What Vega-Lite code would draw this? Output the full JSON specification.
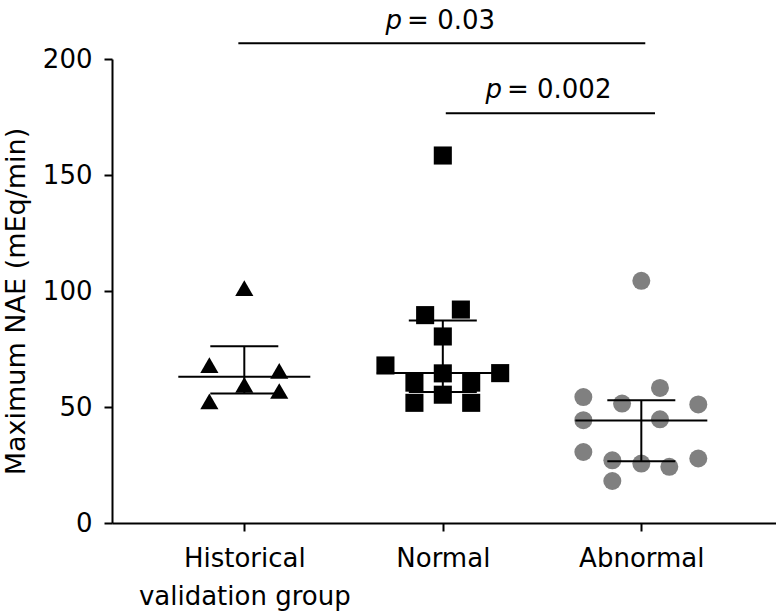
{
  "$schema": "https://vega.github.io/schema/vega-lite/v6.json",
  "autosize": "none",
  "width": 664,
  "height": 464,
  "padding": {"left": 112, "top": 59, "right": 0, "bottom": 88},
  "background": "white",
  "config": {
    "view": {"stroke": null},
    "font": "DejaVu Sans",
    "axis": {"grid": false, "domainColor": "black", "domainWidth": 2, "tickColor": "black", "tickWidth": 2, "tickSize": 8, "labelColor": "black", "titleColor": "black", "labelFont": "DejaVu Sans", "titleFont": "DejaVu Sans", "labelFontSize": 26, "titleFontSize": 27, "titleFontWeight": "normal", "labelLimit": 0}
  },
  "datasets": {
    "points": [
      {"group": "Historical", "x": 1.0, "value": 101.2},
      {"group": "Historical", "x": 0.824, "value": 68.0},
      {"group": "Historical", "x": 1.176, "value": 65.6},
      {"group": "Historical", "x": 1.0, "value": 59.5},
      {"group": "Historical", "x": 1.176, "value": 56.9},
      {"group": "Historical", "x": 0.824, "value": 52.4},
      {"group": "Normal", "x": 2.0, "value": 158.4},
      {"group": "Normal", "x": 2.091, "value": 92.0},
      {"group": "Normal", "x": 1.911, "value": 89.6},
      {"group": "Normal", "x": 2.0, "value": 80.4},
      {"group": "Normal", "x": 1.711, "value": 67.9},
      {"group": "Normal", "x": 2.289, "value": 64.6},
      {"group": "Normal", "x": 2.0, "value": 64.5},
      {"group": "Normal", "x": 1.857, "value": 60.5},
      {"group": "Normal", "x": 2.143, "value": 60.5},
      {"group": "Normal", "x": 2.0, "value": 55.3},
      {"group": "Normal", "x": 1.857, "value": 51.8},
      {"group": "Normal", "x": 2.143, "value": 51.8},
      {"group": "Abnormal", "x": 3.0, "value": 104.4},
      {"group": "Abnormal", "x": 3.094, "value": 58.2},
      {"group": "Abnormal", "x": 2.708, "value": 54.3},
      {"group": "Abnormal", "x": 2.903, "value": 51.5},
      {"group": "Abnormal", "x": 3.287, "value": 51.1},
      {"group": "Abnormal", "x": 2.708, "value": 44.3},
      {"group": "Abnormal", "x": 3.094, "value": 44.7},
      {"group": "Abnormal", "x": 2.708, "value": 30.6},
      {"group": "Abnormal", "x": 3.287, "value": 27.8},
      {"group": "Abnormal", "x": 2.854, "value": 27.0},
      {"group": "Abnormal", "x": 3.0, "value": 25.6},
      {"group": "Abnormal", "x": 3.141, "value": 24.2},
      {"group": "Abnormal", "x": 2.854, "value": 18.1}
    ],
    "stats": [
      {"group": "Historical", "x": 1, "median": 63.0, "q1": 55.8, "q3": 76.2},
      {"group": "Normal", "x": 2, "median": 64.7, "q1": 56.5, "q3": 87.3},
      {"group": "Abnormal", "x": 3, "median": 44.2, "q1": 26.6, "q3": 52.9}
    ],
    "sig": [
      {"x1": 0.97, "x2": 3.02, "y": 206.8, "tx": 1.805, "ty": 212.8, "p": "p", "label": "= 0.03"},
      {"x1": 2.015, "x2": 3.069, "y": 176.6, "tx": 2.308, "ty": 183.0, "p": "p", "label": "= 0.002"}
    ]
  },
  "layer": [
    {
      "data": {"name": "points"},
      "mark": {"type": "point", "filled": true, "opacity": 1, "size": 300},
      "encoding": {
        "x": {"field": "x", "type": "quantitative",
          "scale": {"domain": [0.3335, 3.6785], "nice": false, "zero": false},
          "axis": {"title": null, "values": [1, 2, 3], "labelExpr": "datum.value == 1 ? ['Historical', 'validation group'] : datum.value == 2 ? 'Normal' : 'Abnormal'", "labelLineHeight": 38, "labelPadding": 14, "labelFlush": false, "labelOverlap": false}},
        "y": {"field": "value", "type": "quantitative",
          "scale": {"domain": [0, 200], "nice": false},
          "axis": {"title": "Maximum NAE (mEq/min)", "values": [0, 50, 100, 150, 200], "labelPadding": 12, "titlePadding": 12, "titleY": 242}},
        "shape": {"field": "group", "type": "nominal",
          "scale": {"domain": ["Historical", "Normal", "Abnormal"], "range": ["triangle-up", "square", "circle"]}, "legend": null},
        "color": {"field": "group", "type": "nominal",
          "scale": {"domain": ["Historical", "Normal", "Abnormal"], "range": ["#000000", "#000000", "#808080"]}, "legend": null},
        "size": {"field": "group", "type": "nominal",
          "scale": {"domain": ["Historical", "Normal", "Abnormal"], "range": [330, 324, 263]}, "legend": null}
      }
    },
    {
      "data": {"name": "stats"},
      "mark": {"type": "rule", "color": "black", "strokeWidth": 2},
      "encoding": {
        "x": {"field": "x", "type": "quantitative"},
        "y": {"field": "q1", "type": "quantitative"},
        "y2": {"field": "q3"}
      }
    },
    {
      "data": {"name": "stats"},
      "mark": {"type": "tick", "orient": "horizontal", "color": "black", "size": 132, "thickness": 2, "opacity": 1},
      "encoding": {
        "x": {"field": "x", "type": "quantitative"},
        "y": {"field": "median", "type": "quantitative"}
      }
    },
    {
      "data": {"name": "stats"},
      "mark": {"type": "tick", "orient": "horizontal", "color": "black", "size": 68, "thickness": 2, "opacity": 1},
      "encoding": {
        "x": {"field": "x", "type": "quantitative"},
        "y": {"field": "q1", "type": "quantitative"}
      }
    },
    {
      "data": {"name": "stats"},
      "mark": {"type": "tick", "orient": "horizontal", "color": "black", "size": 68, "thickness": 2, "opacity": 1},
      "encoding": {
        "x": {"field": "x", "type": "quantitative"},
        "y": {"field": "q3", "type": "quantitative"}
      }
    },
    {
      "data": {"name": "sig"},
      "mark": {"type": "rule", "color": "black", "strokeWidth": 2},
      "encoding": {
        "x": {"field": "x1", "type": "quantitative"},
        "x2": {"field": "x2"},
        "y": {"field": "y", "type": "quantitative"}
      }
    },
    {
      "data": {"name": "sig"},
      "mark": {"type": "text", "align": "right", "baseline": "alphabetic", "fontStyle": "italic", "fontSize": 26, "dx": -2, "color": "black"},
      "encoding": {
        "x": {"field": "tx", "type": "quantitative"},
        "y": {"field": "ty", "type": "quantitative"},
        "text": {"field": "p"}
      }
    },
    {
      "data": {"name": "sig"},
      "mark": {"type": "text", "align": "left", "baseline": "alphabetic", "fontSize": 26, "dx": 3, "color": "black"},
      "encoding": {
        "x": {"field": "tx", "type": "quantitative"},
        "y": {"field": "ty", "type": "quantitative"},
        "text": {"field": "label"}
      }
    }
  ]
}
